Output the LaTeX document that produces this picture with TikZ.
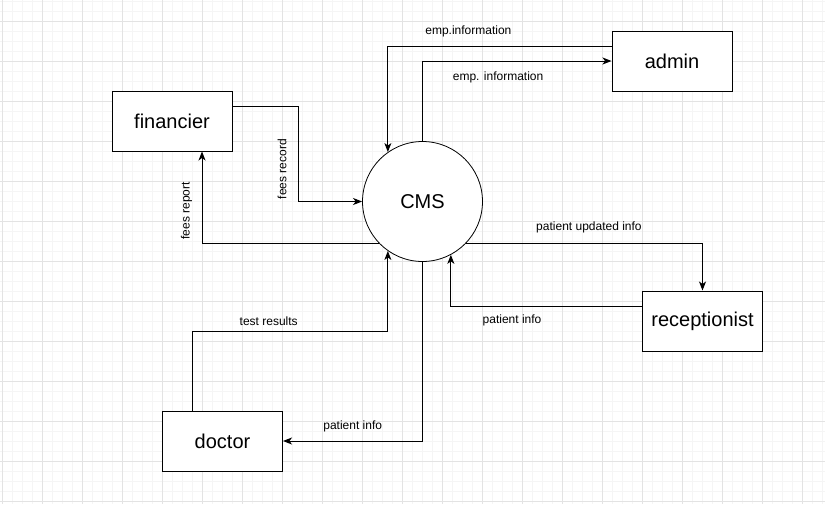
\documentclass[tikz,border=0pt]{standalone}
\usepackage{fontspec}
\setmainfont{Liberation Sans}
\usetikzlibrary{shapes,arrows,arrows.meta}

\begin{document}
\begin{tikzpicture}[x=1pt, y=-1pt, auto]

% Alakzatok definiálása
\tikzstyle{entity} = [rectangle, minimum width=120pt, minimum height=60pt, text centered, draw=black, fill=white, line width=1pt, font=\fontsize{20}{24}\selectfont]
\tikzstyle{proc} = [circle, minimum size=120pt, inner sep=0pt, text centered, draw=black, fill=white, line width=0.8pt, font=\fontsize{20}{24}\selectfont]
\tikzstyle{arrow} = [line width=1pt, ->, >={Stealth[length=9pt,width=7pt,inset=2.5pt]}]
\tikzstyle{lbl} = [font=\fontsize{12}{14}\selectfont, inner sep=0pt, anchor=center]
\tikzstyle{gridminor} = [draw=gray!8, line width=0.6pt]
\tikzstyle{gridmajor} = [draw=gray!22, line width=0.8pt]

\useasboundingbox (0,0) rectangle (825,504);

% Rács
\foreach \x in {2,12,...,822} \draw[gridminor] (\x,0) -- (\x,504);
\foreach \y in {1,11,...,501} \draw[gridminor] (0,\y) -- (825,\y);
\foreach \x in {2,42,...,802} \draw[gridmajor] (\x,0) -- (\x,504);
\foreach \y in {21,61,...,501} \draw[gridmajor] (0,\y) -- (825,\y);

% Elemek
\node (cms) [proc] at (422.5,201.5) {CMS};
\node (admin) [entity] at (672,61) {admin};
\node (fin) [entity] at (172,121) {financier};
\node (rec) [entity] at (702.5,321) {receptionist};
\node (doc) [entity] at (222.5,441) {doctor};

% Vonalak
\draw [arrow] ([yshift=15pt]admin.west) -| node[lbl, pos=0.32, yshift=15pt] {emp.information} (cms.125);
\draw [arrow] (cms.north) |- node[lbl, pos=0.70, yshift=-16pt] {emp. information} (admin.west);
\draw [arrow] ([yshift=15pt]fin.east) -- ++(65.5,0) |- node[lbl, pos=0.33, xshift=-16pt, rotate=90] {fees record} (cms.west);
\draw [arrow] (cms.224) -| node[lbl, pos=0.677, xshift=-15.5pt, rotate=90] {fees report} ([xshift=30pt]fin.south);
\draw [arrow] (cms.-44) -| node[lbl, pos=0.26, yshift=16.5pt] {patient updated info} (rec.north);
\draw [arrow] ([yshift=15pt]rec.west) -| node[lbl, pos=0.34, yshift=-14pt] {patient info} (cms.-62);
\draw [arrow] ([xshift=-30pt]doc.north) -- ++(0,-79.3) -| node[lbl, pos=0.195, yshift=10pt] {test results} (cms.235);
\draw [arrow] (cms.south) |- node[lbl, pos=0.75, yshift=15pt] {patient info} (doc.east);
\end{tikzpicture}
\end{document}
